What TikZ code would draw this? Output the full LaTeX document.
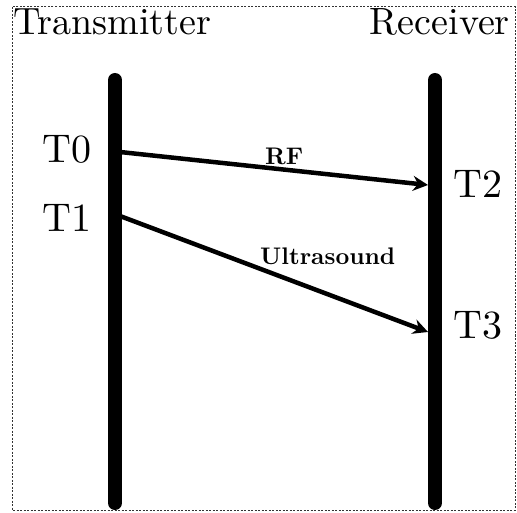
\documentclass[tikz,border=0pt]{standalone}
\usepackage{fontspec}
\setmainfont{lmroman10-regular.otf}[BoldFont=lmroman10-bold.otf]
\usetikzlibrary{arrows.meta,positioning}

\tikzset{
    frame/.style={line width=1pt,black!80,dash pattern=on 2pt off 1.5pt},
    lifeline/.style={line width=14pt,line cap=round},
    msg/.style={line width=4.5pt,-{Stealth[length=15pt,width=15pt,inset=5pt]}},
    side/.style={inner sep=0pt,font=\fontsize{38}{38}\selectfont},
    stamp/.style={inner sep=0pt,font=\fontsize{40}{40}\selectfont},
    medium/.style={inner sep=0pt,font=\fontsize{24}{24}\selectfont\bfseries}
}

\begin{document}
\begin{tikzpicture}[x=1pt,y=-1pt]
                    \useasboundingbox (0,0) rectangle (517,513);
                    \draw[frame] (12,7) rectangle (515,510);

                    \node[side,anchor=base west] (tx) at (13,35) {Transmitter};
                    \node[side,anchor=base east] (rx) at (510,35) {Receiver};

                    \coordinate (txtop) at (115,80);
                    \coordinate (txbot) at (115,503);
                    \coordinate (rxtop) at (435,80);
                    \coordinate (rxbot) at (435,503);
                    \draw[lifeline] (txtop) -- (txbot);
                    \draw[lifeline] (rxtop) -- (rxbot);

                    \coordinate (t0) at (120,152);
                    \coordinate (t1) at (120,216);
                    \coordinate (t2) at (428,185);
                    \coordinate (t3) at (428,332);

                    \node[stamp,anchor=base west] (T0) at (42,163) {T0};
                    \node[stamp,anchor=base west] (T1) at (42,232) {T1};
                    \node[stamp,anchor=base west] (T2) at (453,198) {T2};
                    \node[stamp,anchor=base west] (T3) at (453,338) {T3};

                    \draw[msg] (t0) -- (t2);
                    \draw[msg] (t1) -- (t3);

                    \node[medium,anchor=base west] (rf) at (265,165) {RF};
                    \node[medium,anchor=base west] (us) at (260,265) {Ultrasound};
                \end{tikzpicture}
\end{document}
